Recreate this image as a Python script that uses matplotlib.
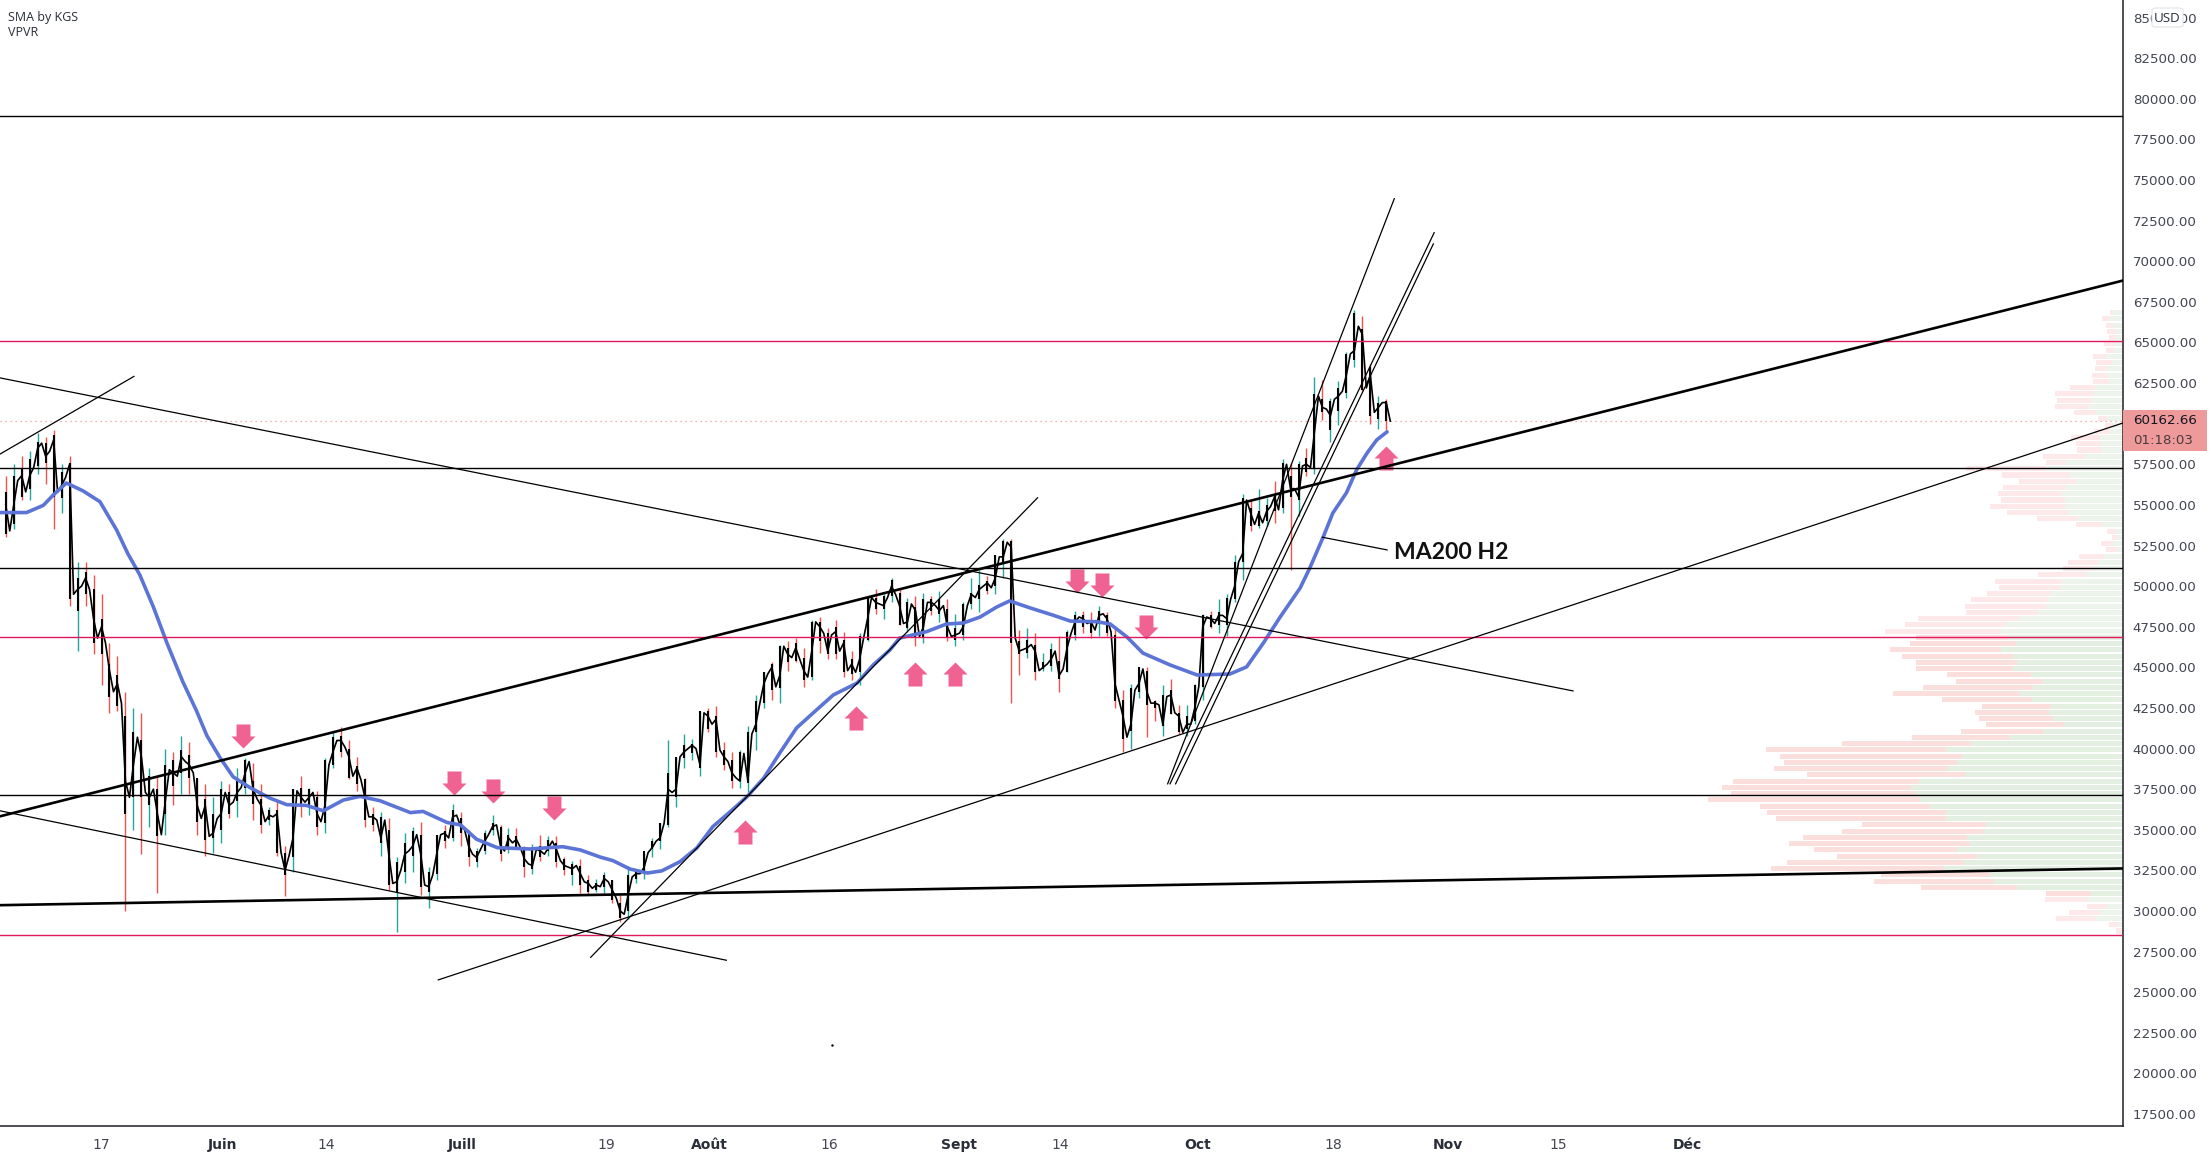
import numpy as np
import matplotlib
matplotlib.use("Agg")
import matplotlib.pyplot as plt
from matplotlib.patches import Rectangle, FancyBboxPatch
from matplotlib.path import Path

# 12h closes, one pair per day, starting on 4 May (day 125 on the chart's day scale)
closes = [
    55000, 53400, 55000, 56500, 56800, 55800, 56800, 57300, 58500, 58800, 58000, 58300,
    59000, 55800, 56200, 56700, 57500, 49500, 49800, 50000, 50500, 49800, 48000, 46800,
    47500, 46500, 44800, 43500, 44000, 42800, 38000, 37000, 39000, 40700, 39500, 37300,
    37000, 37500, 36000, 34700, 36800, 38700, 38500, 38300, 39500, 39200, 39000, 38500,
    36500, 35700, 36500, 34600, 34800, 35700, 36000, 37300, 36500, 36700, 37300, 37600,
    38500, 39200, 37500, 36900, 36500, 35500, 35900, 35800, 36000, 33600, 32500, 33400,
    34500, 37400, 37000, 36700, 37000, 37300, 36000, 35500, 36500, 39000, 39800, 40500,
    40500, 40100, 39500, 38300, 38800, 38100, 37000, 35800, 35800, 35600, 34500, 35600,
    33500, 31700, 31800, 32500, 33500, 33700, 34000, 34700, 33500, 31600, 31500, 32200,
    33500, 34700, 34800, 34500, 35800, 35900, 35200, 35000, 34000, 33500, 33300, 33800,
    34300, 34700, 35200, 35300, 34000, 33700, 34500, 34200, 34400, 33900, 33200, 32900,
    32800, 33800, 33700, 33500, 33900, 34300, 33800, 33100, 32800, 32700, 32600, 32800,
    32300, 31800, 31700, 31400, 31600, 31500, 32000, 31800, 31300, 30800, 30000, 29800,
    31000, 32100, 32300, 32300, 32700, 33600, 33900, 34300, 34500, 35400, 37500, 37300,
    37500, 39500, 39800, 40000, 40200, 40000, 39000, 42200, 42000, 41500, 41800, 39900,
    39500, 39200, 38500, 38200, 38000, 39700, 38000, 40900, 41500, 42800, 44000, 44600,
    45000, 43800, 44500, 46300, 45800, 45600, 46200, 45500, 44800, 44400, 46000, 47800,
    47500, 47100, 46000, 47000, 47200, 46000, 46500, 44800, 45200, 44700, 45500, 46800,
    48000, 49300, 49000, 48900, 48800, 49300, 50000, 49500, 48800, 47700, 47800, 48900,
    48500, 46900, 47500, 49000, 49000, 48800, 48500, 48800, 47500, 46900, 47000, 47100,
    47500, 48800, 49500, 49300, 49800, 50000, 50200, 49900, 50500, 51800, 51800, 52700,
    52400, 46800, 46000, 46100, 46200, 46400, 46000, 44800, 45000, 45200, 45500, 46000,
    44500, 44900, 46200, 47100, 47800, 48100, 48000, 47700, 47800, 47300, 48200, 48300,
    48000, 47200, 44000, 43000, 42000, 40700, 41500, 43600, 44000, 44900, 43500, 42800,
    42800, 42700, 41500, 43200, 43300, 42200, 42000, 41000, 41500, 41500, 42500, 43800,
    47500, 48100, 48000, 47700, 48200, 48200, 48000, 49200, 50000, 51500, 52000, 55300,
    54500, 53800, 54500, 53900, 54600, 54900, 55500, 54700, 56500, 57500, 56000, 56000,
    55500, 57400, 57500, 57300, 59500, 61700, 61000, 60900, 60500, 61500, 61700, 62000,
    63000, 64300, 64500, 66000, 65500, 62200, 63000, 60700, 61000, 61300, 61300, 60162,
]
# daily extremes
highs = [
    56800, 57500, 58000, 58300, 59400, 59200, 59600, 57500, 58000, 51500, 51500, 50700, 49500, 46500, 45700, 43500,
    42500, 42200, 38800, 38300, 40000, 39800, 40800, 40400, 38200, 37800, 37000, 38000,
    37800, 38800, 39400, 39100, 37800, 36400, 36800, 34000, 37500, 38300, 37600, 37400, 39400, 41000, 41300, 40500,
    39500, 38200, 36400, 36100, 35700, 33300, 34800, 35200, 35500, 32700, 34700, 35300, 36600, 36100,
    35000, 33900, 35000, 35900, 35300, 35100, 35100, 34000, 34100, 34700, 34600, 34600, 33300, 33100, 33200, 32200,
    32000, 32400, 31900, 31000, 32800, 32600, 33600, 34500, 35400, 40500, 39500, 40900, 40600, 42300, 42500,
    42600, 40400, 39800, 39900, 41400, 43300, 44700, 45300, 46400, 46600, 46800, 46200, 47900, 48100, 47400, 47900,
    47200, 46000, 47100, 49400, 49800, 49500, 50500, 49800, 49300, 49400, 49600, 49400, 49700, 49200, 48300,
    49000, 50500, 51000, 50600, 51900, 52900, 52900, 47300, 47400, 47100, 45900, 46500, 46900, 47300, 48500, 48500,
    48400, 48800, 48400, 47400, 43600, 44000, 44900, 45000, 43000, 43900, 44300, 42700, 42700, 44000,
    48300, 48500, 49200, 49500, 51900, 55700, 55300, 56000, 55400, 56500, 57800, 57600, 57700, 58500, 62900, 62700,
    61600, 62600, 64400, 67000, 66600, 63700, 61700, 61500,
]
lows = [
    53000, 53500, 55300, 55300, 56900, 56300, 53500, 54500, 48800, 46000, 48800, 45800, 43900, 42200, 42300, 30000,
    35000, 33500, 35200, 31100, 34700, 36500, 37200, 37200, 34700, 33400, 33600, 34200,
    35700, 35800, 37200, 35600, 34800, 35300, 33400, 30900, 32400, 35800, 35900, 34700, 34800, 38800, 39500, 38100,
    37400, 35200, 34900, 33400, 31300, 28700, 31700, 32400, 31000, 30200, 31900, 33900, 34300, 34000,
    32800, 32700, 33500, 34700, 33100, 33600, 33800, 32100, 32300, 33100, 33400, 32700, 32200, 31600, 31100, 31000,
    31200, 31100, 30500, 29300, 29500, 31700, 32000, 33300, 33800, 35200, 36400, 38800, 39300, 38300, 41000,
    39500, 38700, 37600, 37600, 37300, 39900, 42500, 43000, 42800, 44800, 45300, 43800, 44200, 45900, 45500, 45500,
    44400, 44200, 43900, 46600, 48300, 48000, 49000, 47600, 47200, 46300, 46500, 48200, 47800, 46600, 46300,
    46700, 48600, 48400, 49500, 49500, 50500, 42800, 44500, 45600, 44200, 44800, 44800, 43500, 44700, 46700, 47100,
    46800, 46900, 46900, 42500, 39800, 40000, 43100, 40700, 41700, 40800, 42100, 40900, 40800, 41500,
    43000, 47400, 47100, 46900, 49000, 50400, 53400, 53600, 53700, 53900, 54500, 51000, 54300, 56800, 56900, 60200,
    58900, 59900, 61600, 63500, 62000, 60000, 59700, 59600,
]
# range of the black candle bodies, per day
body_tops = [
    55800, 56800, 57300, 57800, 58900, 58800, 59300, 57000, 57600, 50500, 50900, 49800, 48000, 45200, 44500, 42000,
    41000, 40500, 38300, 37500, 39000, 39300, 39900, 39600, 38200, 36900, 36000, 37500,
    37300, 38000, 39300, 38000, 36900, 36200, 36200, 33600, 37500, 37600, 37500, 37000, 39300, 40700, 40800, 40000,
    38900, 38100, 36000, 35800, 35000, 33000, 34200, 34900, 34700, 32400, 34700, 34900, 36200, 35700,
    34800, 33700, 34800, 35400, 35200, 34700, 34600, 33800, 33900, 34000, 34400, 34200, 33200, 32900, 32800, 31900,
    31700, 32200, 31900, 30500, 32200, 32500, 33700, 34300, 35400, 38500, 39500, 40200, 40300, 42300, 42300,
    42000, 39900, 39300, 39800, 41000, 42900, 44700, 45200, 46300, 46200, 46500, 45600, 47800, 47800, 47100, 47500,
    46700, 45500, 46900, 49300, 49300, 49400, 50400, 49600, 49000, 48700, 49200, 49200, 49200, 48600, 47400,
    48900, 49600, 50100, 50300, 51900, 52800, 52800, 46600, 46700, 46400, 45300, 46100, 45400, 47200, 48200, 48200,
    47900, 48500, 48200, 47000, 43000, 43700, 45000, 44800, 42900, 43300, 43600, 42200, 42000, 43900,
    48200, 48200, 48400, 49300, 51500, 55400, 54800, 54600, 55000, 55700, 57600, 56800, 57500, 57900, 61800, 61500,
    61400, 62200, 64300, 66800, 65800, 63500, 61300, 61400,
]
body_bottoms = [
    53200, 53800, 55500, 56000, 57400, 57600, 55500, 55400, 49200, 48500, 49500, 46500, 45800, 43200, 42600, 36000,
    37000, 37000, 36500, 34600, 36000, 37700, 38500, 38200, 35500, 34400, 34500, 35000,
    36000, 36800, 37600, 36600, 35300, 35600, 33600, 32200, 33300, 36400, 36500, 35200, 35400, 39000, 39800, 38200,
    37800, 35600, 35300, 34200, 31600, 31200, 32400, 33400, 31500, 31200, 32300, 34300, 34500, 34800,
    33300, 33000, 33700, 35000, 33500, 33800, 33800, 32700, 32600, 33300, 33700, 33000, 32500, 32200, 31600, 31200,
    31300, 31500, 30700, 29600, 30000, 32000, 32300, 33800, 34300, 35300, 37000, 39400, 39700, 38800, 41200,
    39800, 39000, 38000, 38000, 37900, 41000, 42800, 43600, 43700, 45300, 45400, 44200, 44400, 46600, 45800, 45800,
    44700, 44600, 44700, 46700, 48600, 48600, 49400, 47600, 47400, 46800, 46800, 48500, 48300, 46800, 46700,
    47000, 48900, 49200, 49700, 50000, 51500, 46500, 45800, 45900, 44700, 44900, 45100, 44300, 44700, 47000, 47500,
    47100, 47700, 47100, 42900, 40600, 41100, 43500, 42700, 42500, 41400, 42100, 41000, 41200, 41700,
    43800, 47500, 47600, 47600, 49200, 51500, 53700, 53700, 54000, 54600, 54800, 55500, 55300, 57000, 57300, 60700,
    59600, 60800, 61900, 63900, 62100, 60500, 60300, 60162,
]

# moving average, read at irregular days
ma_days = [
    124.3, 127.6, 129.7, 131, 132.6, 134.7, 136.8, 138.9, 140.3, 141.8, 143.5, 145.2, 147.2, 148.9, 150.2, 151.8,
    153.5, 155.6, 158.1, 160.2, 162.7, 164.8, 167.3, 169.4, 171.9, 175.7, 177.3, 180.3, 182, 184, 186.6, 190.7,
    194.8, 197, 199.5, 201.1, 203.2, 205.4, 207.2, 209.5, 211.6, 213.6, 215.8, 217.9, 220, 222, 224.1, 226.6,
    228.7, 231.7, 233.7, 235.8, 237, 240.4, 242.9, 245, 247.1, 249.2, 250.8, 253.3, 256.2, 258.4, 261.7, 263.4,
    265.5, 267.5, 270.9, 274.3, 278.4, 280.5, 282.6, 284.7, 287.2, 288.4, 290.1, 291.3, 293, 294.3, 295.6, 296.8, 298.1,
]
ma_values = [
    54530, 54530, 54970, 55630, 56350, 55860, 55200, 53450, 52000, 50690, 48720, 46500, 44100, 42330, 40800, 39480,
    38260, 37600, 36950, 36550, 36500, 36170, 36830, 37060, 36790, 36060, 36130, 35450, 35300, 34420, 33900, 33820,
    33960, 33760, 33320, 33100, 32590, 32340, 32470, 33040, 33880, 35190, 36120, 37040, 38190, 39730, 41270, 42380,
    43300, 44040, 45150, 46070, 46800, 47200, 47670, 47730, 48100, 48720, 49090, 48670, 48220, 47850, 47810, 47670,
    46870, 45880, 45150, 44530, 44590, 45030, 46500, 48100, 49880, 51100, 53030, 54500, 55740, 57180, 58200, 59000, 59500,
]

# horizontal levels
black_levels = [78970, 57270, 51100, 37130]
pink_levels = [65080, 46850, 28540]
last_price = 60162.66

# trend lines: day0, price0, day1, price1
thick_lines = [
    (124.28, 35830, 390.3, 68810),
    (124.28, 30360, 390.3, 32620),
]
thin_lines = [
    (124.28, 62820, 321.4, 43550),
    (124.28, 58130, 141.06, 62910),
    (124.28, 36170, 215.3, 26970),
    (179.2, 25760, 390.3, 60040),
    (198.3, 27150, 254.3, 55440),
    (299.0, 73850, 270.6, 37830),
    (304.0, 71760, 270.9, 37830),
    (303.9, 71070, 271.6, 37830),
    (290.0, 53010, 298.1, 52230),
]

# pink arrows
down_days = [154.67, 181.17, 186.1, 193.7, 259.3, 262.4, 267.9]
down_prices = [40775, 37910, 37390, 36350, 50320, 50060, 47460]
up_days = [217.7, 231.5, 238.9, 243.9, 297.95]
up_prices = [34870, 41900, 44600, 44600, 57875]

# volume profile, top row first
vp_total = [
    38, 63, 52, 48, 42, 57, 52, 90, 82, 84, 93, 91, 160, 205, 199, 205, 148, 75, 55, 87,
    157, 142, 137, 241, 230, 470, 364, 313, 361, 375, 367, 400, 349, 259, 142, 49, 34, 67, 52, 133,
    166, 180, 256, 385, 373, 409, 457, 475, 472, 616, 655, 715, 620, 640, 700, 664, 622, 622, 529, 502,
    601, 691, 544, 424, 445, 433, 412, 487, 634, 844, 1072, 1030, 1018, 1048, 949, 1171, 1204, 1177, 1246, 1090,
    1069, 1042, 784, 844, 961, 1003, 928, 859, 1009, 1057, 727, 748, 607, 232, 235, 107, 163, 202, 42, 21,
]
vp_up = [
    30, 38, 30, 22, 20, 25, 28, 50, 32, 48, 45, 42, 85, 90, 95, 105, 80, 48, 30, 40,
    70, 65, 63, 113, 170, 230, 160, 142, 172, 185, 175, 175, 162, 135, 63, 22, 15, 30, 15, 58,
    75, 90, 110, 187, 188, 217, 225, 232, 255, 313, 352, 370, 345, 322, 367, 330, 318, 334, 276, 240,
    270, 310, 274, 217, 222, 210, 178, 240, 343, 455, 532, 482, 498, 526, 475, 613, 637, 620, 608, 578,
    532, 532, 412, 420, 468, 460, 498, 437, 478, 538, 400, 388, 317, 97, 107, 48, 70, 84, 15, 0,
]

price_ticks = np.arange(17500, 85001, 2500)
date_ticks = [137, 152.2, 165.2, 182.2, 200.2, 213.2, 228.2, 244.4, 257.2, 274.4, 291.4, 305.7, 319.5, 335.7]
date_labels = ["17", "Juin", "14", "Juill", "19", "Août", "16", "Sept", "14", "Oct", "18", "Nov", "15", "Déc"]
month_labels = ["Juin", "Juill", "Août", "Sept", "Oct", "Nov", "Déc"]

W, H = 2211, 1162
AXIS_X, AXIS_Y = 2123, 1126

fig = plt.figure(figsize=(W / 100, H / 100), dpi=100, facecolor="white")
ax = fig.add_axes([0, (H - AXIS_Y) / H, AXIS_X / W, AXIS_Y / H])
ax.set_xlim(124.28, 390.32)
ax.set_ylim(16766, 86083)

# volume profile on its own x scale, growing from the right
ax_vp = ax.twiny()
ax_vp.set_xlim(AXIS_X * 3, 0)
ax_vp.set_xticks([])
ax.set_zorder(2)
ax_vp.set_zorder(1)
ax.patch.set_visible(False)
vp_prices = np.linspace(66840, 28770, len(vp_total))
pale = (vp_prices > 46900) | (vp_prices < 31000)
ax_vp.barh(vp_prices, vp_total, height=310, color=np.where(pale, "#fde8ea", "#fbdfdd"), linewidth=0)
ax_vp.barh(vp_prices, vp_up, height=310, color=np.where(pale, "#edf4ec", "#e3f0e1"), linewidth=0)
for s in ax_vp.spines.values():
    s.set_visible(False)

# wicks then bodies
wick_days = 125 + np.arange(len(highs))
day_closes = closes[1::2]
wick_cols = ["#26a69a" if i > 0 and day_closes[i] >= day_closes[i - 1] else "#ef5350" for i in range(len(highs))]
ax.vlines(wick_days, lows, highs, colors=wick_cols, linewidth=1.0, zorder=2)
bar_days = 125 + 0.5 * np.arange(len(closes))
ax.plot(bar_days, closes, color="black", lw=1.2, zorder=2.5)
ax.vlines(wick_days, body_bottoms, body_tops, colors="black", linewidth=1.5, zorder=2.5)

ax.plot(ma_days, ma_values, color="#5b74d6", lw=2.6, zorder=3, solid_capstyle="round")

# arrows
arrow_down = Path([(-2.9, 5), (2.9, 5), (2.9, 0), (5, 0), (0, -5), (-5, 0), (-2.9, 0), (-2.9, 5)], closed=True)
arrow_up = Path([(-2.9, -5), (2.9, -5), (2.9, 0), (5, 0), (0, 5), (-5, 0), (-2.9, 0), (-2.9, -5)], closed=True)
ax.scatter(down_days, down_prices, marker=arrow_down, s=300, color="#f06292", linewidths=0, zorder=3.5)
ax.scatter(up_days, up_prices, marker=arrow_up, s=300, color="#f06292", linewidths=0, zorder=3.5)

for y in black_levels:
    ax.axhline(y, color="black", lw=1.0, zorder=4)
for y in pink_levels:
    ax.axhline(y, color="#e0185f", lw=1.0, zorder=4)
ax.axhline(last_price, color="#ee9a9a", lw=0.9, ls=(0, (1, 3)), zorder=1.5)

for d0, p0, d1, p1 in thick_lines:
    ax.plot([d0, d1], [p0, p1], color="black", lw=1.9, zorder=4)
for d0, p0, d1, p1 in thin_lines:
    ax.plot([d0, d1], [p0, p1], color="black", lw=0.9, zorder=4)
ax.plot([228.5], [21750], marker=".", ms=1.5, color="black")

ax.text(299.0, 52100, "MA200 H2", fontsize=16.6, family="Lato", fontweight="bold", va="center", color="#111111", zorder=5)

# axes
for name in ["top", "left"]:
    ax.spines[name].set_visible(False)
for name in ["right", "bottom"]:
    ax.spines[name].set_color("#1d1f26")
    ax.spines[name].set_linewidth(1.1)
ax.yaxis.tick_right()
ax.set_yticks(price_ticks)
ax.set_yticklabels(["%.2f" % p for p in price_ticks])
ax.tick_params(axis="y", length=0, pad=7, labelsize=9.6, labelcolor="#434651")
ax.set_xticks(date_ticks)
ax.set_xticklabels(date_labels)
ax.tick_params(axis="x", length=0, pad=8.5, labelsize=10, labelcolor="#434651")
for lab in ax.get_xticklabels():
    if lab.get_text() in month_labels:
        lab.set_fontweight("bold")
        lab.set_color("#2a2e39")

# legend text top left
fig.text(8 / W, 1 - 17 / H, "SMA by KGS", fontsize=9, family="Open Sans", color="#2a2e39", va="center")
fig.text(8 / W, 1 - 33 / H, "VPVR", fontsize=9, family="Open Sans", color="#2a2e39", va="center")

# last price tag
fig.add_artist(Rectangle((AXIS_X / W, 1 - 451 / H), 84 / W, 41 / H, transform=fig.transFigure,
                         facecolor="#ee9a9a", edgecolor="none", zorder=5))
fig.text(2133 / W, 1 - 421 / H, "60162.66", fontsize=9.6, color="#131722", va="center", zorder=6)
fig.text(2133 / W, 1 - 440 / H, "01:18:03", fontsize=9.6, color="#4a3a3c", va="center", zorder=6)

# currency badge
fig.add_artist(FancyBboxPatch((2152 / W, 1 - 27 / H), 31 / W, 19 / H, transform=fig.transFigure,
                              boxstyle="round,pad=0,rounding_size=0.002", facecolor="white",
                              edgecolor="#e0e3eb", linewidth=0.8, zorder=5))
fig.text(2167.5 / W, 1 - 18 / H, "USD", fontsize=9.6, family="Open Sans", color="#2a2e39", ha="center", va="center", zorder=6)

fig.savefig("out.png", dpi=100)
